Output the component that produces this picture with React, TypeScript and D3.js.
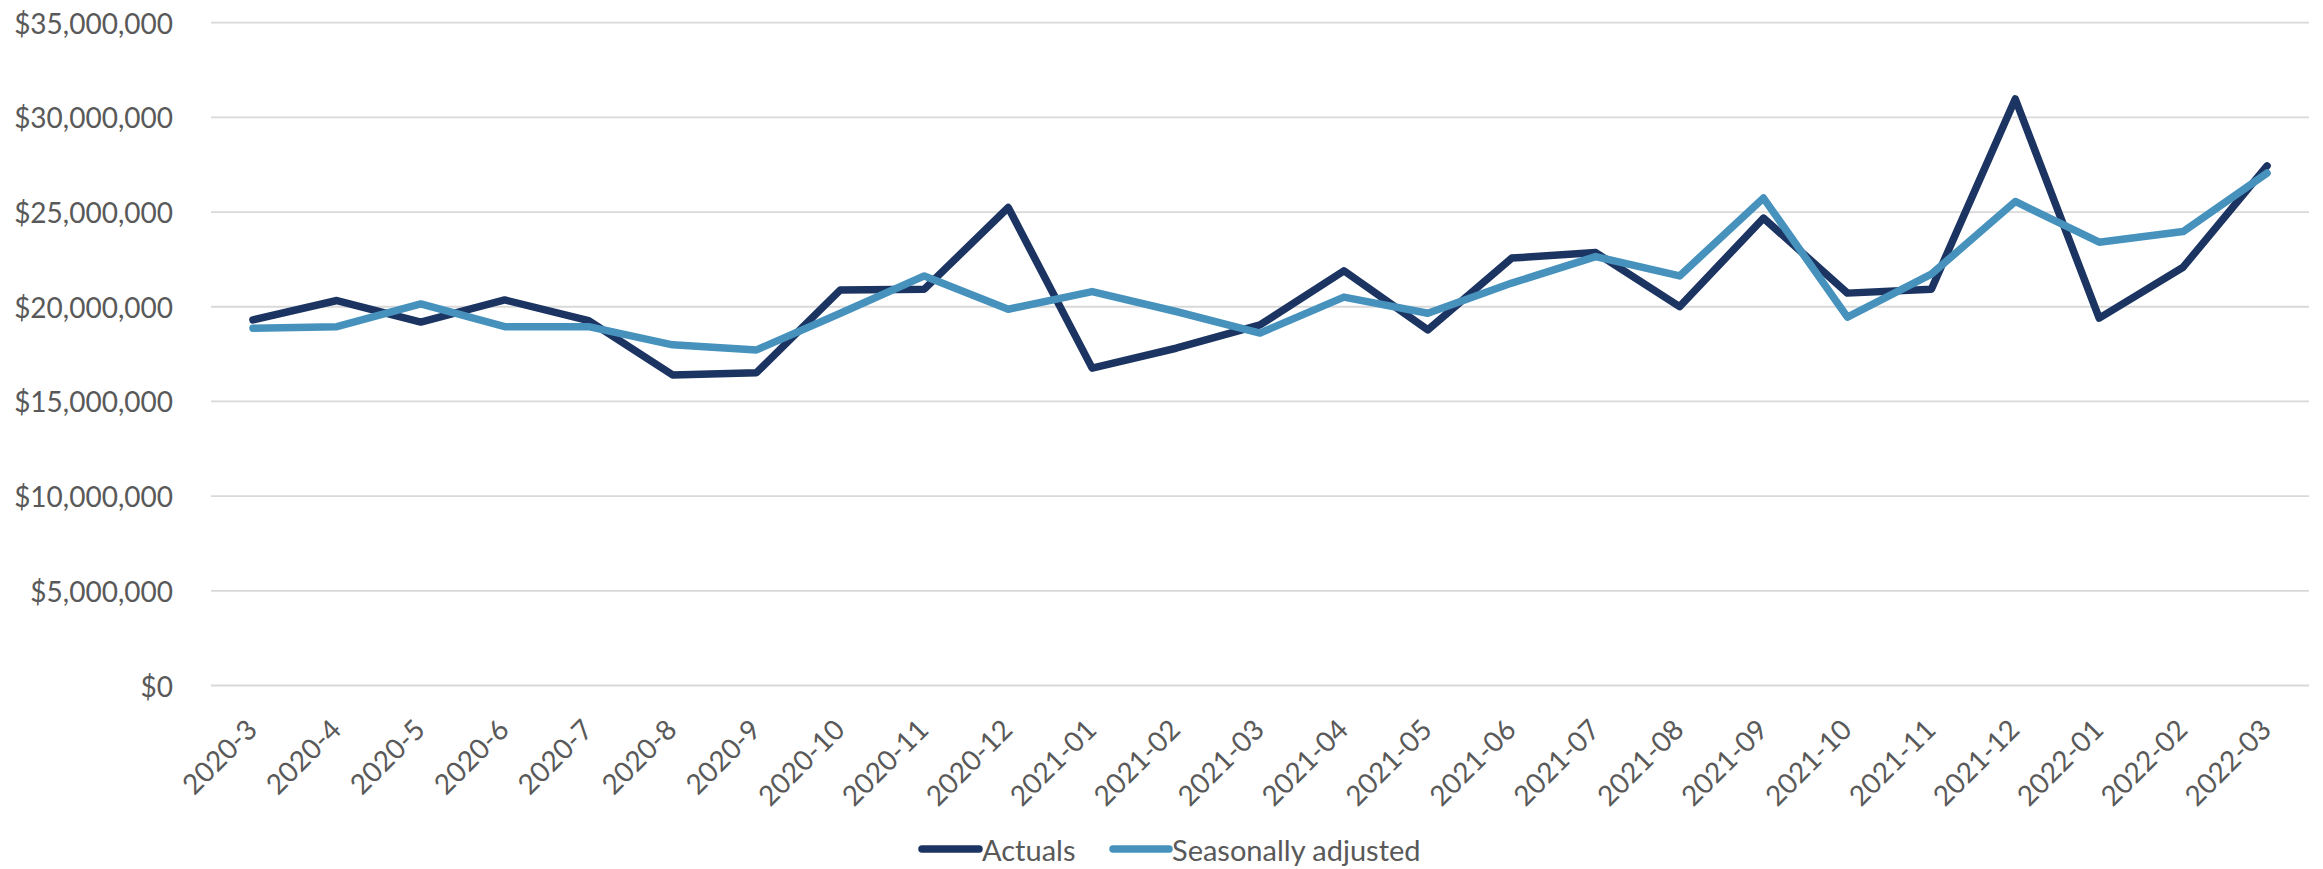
import React from "react";
import * as d3 from "d3";

const categories = [
  "2020-3","2020-4","2020-5","2020-6","2020-7","2020-8","2020-9","2020-10","2020-11","2020-12",
  "2021-01","2021-02","2021-03","2021-04","2021-05","2021-06","2021-07","2021-08","2021-09","2021-10",
  "2021-11","2021-12","2022-01","2022-02","2022-03",
];

const actuals = [
  19.31, 20.33, 19.19, 20.36, 19.27, 16.40, 16.52, 20.89, 20.93, 25.24,
  16.76, 17.81, 19.04, 21.90, 18.78, 22.57, 22.86, 20.01, 24.68, 20.72,
  20.93, 30.97, 19.40, 22.09, 27.44,
].map((v) => v * 1e6);

const seasonal = [
  18.87, 18.95, 20.15, 18.95, 18.95, 17.99, 17.72, 19.66, 21.63, 19.87,
  20.80, 19.75, 18.61, 20.51, 19.66, 21.25, 22.65, 21.63, 25.74, 19.45,
  21.72, 25.56, 23.41, 23.97, 27.06,
].map((v) => v * 1e6);

const yTicks = [0, 5e6, 10e6, 15e6, 20e6, 25e6, 30e6, 35e6];

const seriesNames = ["Actuals", "Seasonally adjusted"];
const seriesColors = ["#1c3461", "#4692bd"];

const W = 2323;
const H = 869;
const left = 211;
const right = 2309;
const top = 22.7;
const bottom = 685.5;
const FONT = "Lato, 'Open Sans', sans-serif";
const TEXT = "#595959";

export default function App() {
  const x = d3.scaleBand<string>().domain(categories).range([left, right]).padding(0);
  const xc = (c: string) => (x(c) as number) + x.bandwidth() / 2;
  const y = d3.scaleLinear().domain([0, 35e6]).range([bottom, top]);
  const fmt = (v: number) => "$" + d3.format(",")(v);

  const line = d3
    .line<number>()
    .x((_, i) => xc(categories[i]))
    .y((d) => y(d));

  const series = [actuals, seasonal];
  const legend = [
    { x0: 922, x1: 979, tx: 982 },
    { x0: 1113, x1: 1169, tx: 1172 },
  ];

  return (
    <svg
      width={W}
      height={H}
      style={{ position: "fixed", left: 0, top: 0, background: "#fff" }}
      fontFamily={FONT}
    >
      <rect x={0} y={0} width={W} height={H} fill="#fff" />
      {yTicks.map((t) => (
        <g key={t}>
          <line x1={left} x2={right} y1={y(t)} y2={y(t)} stroke="#d9d9d9" strokeWidth={1.8} />
          <text
            x={173}
            y={y(t)}
            textAnchor="end"
            dominantBaseline="central"
            fontSize={28}
            fill={TEXT}
          >
            {fmt(t)}
          </text>
        </g>
      ))}
      {categories.map((c) => (
        <text
          key={c}
          transform={`translate(${xc(c) + 6},${bottom + 46}) rotate(-45)`}
          textAnchor="end"
          fontSize={28}
          fill={TEXT}
        >
          {c}
        </text>
      ))}
      {series.map((s, k) => (
        <path
          key={k}
          d={line(s) || ""}
          fill="none"
          stroke={seriesColors[k]}
          strokeWidth={7.5}
          strokeLinejoin="round"
          strokeLinecap="round"
        />
      ))}
      <g>
        {legend.map((p, k) => (
          <g key={k}>
            <line
              x1={p.x0}
              x2={p.x1}
              y1={849}
              y2={849}
              stroke={seriesColors[k]}
              strokeWidth={7.5}
              strokeLinecap="round"
            />
            <text x={p.tx} y={849} dominantBaseline="central" fontSize={29} fill={TEXT}>
              {seriesNames[k]}
            </text>
          </g>
        ))}
      </g>
    </svg>
  );
}
